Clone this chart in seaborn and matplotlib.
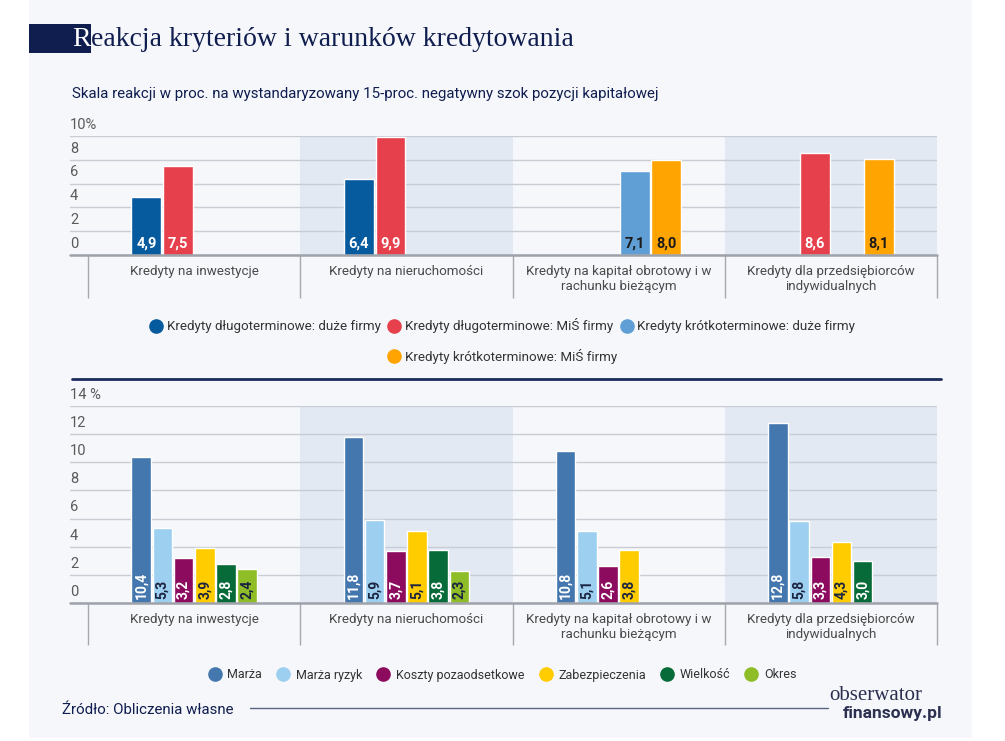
import matplotlib
matplotlib.use('Agg')
import matplotlib.pyplot as plt
import matplotlib.transforms as mtransforms
from matplotlib.colors import to_hex
from matplotlib.lines import Line2D
from matplotlib.patches import Rectangle

import pandas as pd
import seaborn as sns

# ---- data ----
groups = ["Kredyty na inwestycje", "Kredyty na nieruchomości",
          "Kredyty na kapitał obrotowy i w\nrachunku bieżącym",
          "Kredyty dla przedsiębiorców\nindywidualnych"]

top_series = ["Kredyty długoterminowe: duże firmy", "Kredyty długoterminowe: MiŚ firmy",
              "Kredyty krótkoterminowe: duże firmy", "Kredyty krótkoterminowe: MiŚ firmy"]
long_big = [4.9, 6.4, None, None]
long_sme = [7.5, 9.9, None, 8.6]
short_big = [None, None, 7.1, None]
short_sme = [None, None, 8.0, 8.1]

bottom_series = ["Marża", "Marża ryzyk", "Koszty pozaodsetkowe",
                 "Zabezpieczenia", "Wielkość", "Okres"]
marza = [10.4, 11.8, 10.8, 12.8]
marza_ryzyk = [5.3, 5.9, 5.1, 5.8]
koszty = [3.2, 3.7, 2.6, 3.3]
zabezpieczenia = [3.9, 5.1, 3.8, 4.3]
wielkosc = [2.8, 3.8, None, 3.0]
okres = [2.4, 2.3, None, None]

top_ticks = [0, 2, 4, 6, 8, 10]
top_ticklabels = ["0", "2", "4", "6", "8", "10%"]
bottom_ticks = [0, 2, 4, 6, 8, 10, 12, 14]
bottom_ticklabels = ["0", "2", "4", "6", "8", "10", "12", "14 %"]

top_colors = ["#065a9e", "#e5404b", "#5f9fd5", "#ffa400"]
top_text = ["white", "white", "#1b1b1b", "#1b1b1b"]
bottom_colors = ["#4477ad", "#9ccff0", "#8c0b5e", "#ffcc00", "#066b38", "#8fbd27"]
bottom_text = ["white", "#1c2440", "white", "#1c2440", "white", "#1c2440"]

NAVY = "#101d4f"
CARD = "#f5f7fa"
BAND = "#e3e9f2"


def to_long(series_names, columns):
    rows = []
    for name, col in zip(series_names, columns):
        for g, v in zip(groups, col):
            if v is not None:
                rows.append({"group": g, "series": name, "value": v})
    return pd.DataFrame(rows)


def draw_panel(ax, df, series_names, colors, text_colors, ticks, ticklabels,
               gap, rotate, sep_depth):
    sns.barplot(data=df, x="group", y="value", hue="series", order=groups,
                hue_order=series_names, palette=colors, saturation=1,
                width=0.6, gap=gap, legend=False, ax=ax, zorder=3)
    ax.set_facecolor("none")
    ax.set_xlim(-0.585, 3.5)
    ax.set_ylim(0, ticks[-1])

    # value labels at the foot of each bar
    cmap = {to_hex(c): tc for c, tc in zip(colors, text_colors)}
    base = mtransforms.offset_copy(ax.transData, fig=ax.figure, x=0,
                                   y=3.2 if rotate else 3.0, units="points")
    for cont in ax.containers:
        for p in cont.patches:
            h = p.get_height()
            if not h or h != h:
                continue
            col = cmap.get(to_hex(p.get_facecolor()), "white")
            ax.text(p.get_x() + p.get_width() / 2, 0,
                    "{:.1f}".format(h).replace(".", ","),
                    transform=base, ha="center", va="bottom",
                    rotation=90 if rotate else 0,
                    fontsize=10 if rotate else 10.5,
                    fontweight="bold", color=col, zorder=5)

    # shaded bands behind every second group
    for k in (1, 3):
        ax.axvspan(k - 0.5, k + 0.5, color=BAND, zorder=0, lw=0)
    ax.set_yticks(ticks)
    ax.grid(axis="y", color="#c8ccd4", lw=1, zorder=1)
    ax.grid(axis="x", visible=False)
    ax.tick_params(axis="y", left=False, labelleft=False)
    for s in ax.spines.values():
        s.set_visible(False)
    ax.axhline(0, color="#9ea2aa", lw=1.8, zorder=4, clip_on=False)
    ax.set_xlabel("")
    ax.set_ylabel("")
    ax.set_xticks(range(len(groups)))
    ax.set_xticklabels(groups, fontsize=9.6, color="#4a4a4a", linespacing=1.25)
    ax.tick_params(axis="x", length=0, pad=7)
    ax.vlines([-0.5, 0.5, 1.5, 2.5, 3.5], -sep_depth, 0,
              transform=ax.get_xaxis_transform(), colors="#a4a8af", lw=1,
              clip_on=False)

    # y tick labels sit above their gridlines, left aligned
    lift = mtransforms.offset_copy(ax.get_yaxis_transform(), fig=ax.figure,
                                   x=0, y=3, units="points")
    for t, lab in zip(ticks, ticklabels):
        ax.text(0, t, lab, transform=lift, ha="left", va="bottom",
                fontsize=10.5, color="#5a5a5a")


def dots(names, colors, ms):
    return [Line2D([], [], marker="o", ls="", markersize=ms, markerfacecolor=c,
                   markeredgecolor=c, label=n) for n, c in zip(names, colors)]


def main():
    sns.set_theme(style="white")
    plt.rcParams["font.family"] = ["Roboto", "DejaVu Sans"]

    W, H = 1005, 741
    fig = plt.figure(figsize=(W / 100, H / 100), dpi=100)
    fig.patch.set_facecolor("white")
    fig.add_artist(Rectangle((29 / W, 3 / H), 943 / W, 1, transform=fig.transFigure,
                             color=CARD, zorder=-10, lw=0))

    # title block: white initial on a navy box, rest in navy
    ty = 1 - 39 / H
    r_txt = fig.text(72 / W, ty, "R", family="Liberation Serif", fontsize=20,
                     color="white", va="center", ha="left", zorder=3)
    fig.canvas.draw()
    r_right = r_txt.get_window_extent().x1
    fig.add_artist(Rectangle((29 / W, 1 - 53 / H), (r_right - 29) / W, 29 / H,
                             transform=fig.transFigure, color=NAVY, lw=0, zorder=1))
    fig.text(r_right / W, ty, "eakcja kryteriów i warunków kredytowania",
             family="Liberation Serif", fontsize=20, color=NAVY, va="center",
             ha="left", zorder=2)
    fig.text(72 / W, 1 - 94 / H,
             "Skala reakcji w proc. na wystandaryzowany 15-proc. negatywny szok pozycji kapitałowej",
             fontsize=10.8, color=NAVY, va="center", ha="left")

    left, width = 70 / W, 867 / W
    ax1 = fig.add_axes([left, 1 - 255 / H, width, 119 / H])
    ax2 = fig.add_axes([left, 1 - 603 / H, width, 197 / H])

    df_top = to_long(top_series, [long_big, long_sme, short_big, short_sme])
    df_bot = to_long(bottom_series, [marza, marza_ryzyk, koszty, zabezpieczenia,
                                     wielkosc, okres])
    draw_panel(ax1, df_top, top_series, top_colors, top_text, top_ticks,
               top_ticklabels, gap=0.06, rotate=False, sep_depth=0.36)
    draw_panel(ax2, df_bot, bottom_series, bottom_colors, bottom_text, bottom_ticks,
               bottom_ticklabels, gap=0.08, rotate=True, sep_depth=0.215)

    # legends
    h_top = dots(top_series, top_colors, 9.5)
    kw = dict(frameon=False, loc="center", handletextpad=0.3, columnspacing=0.5,
              handlelength=1.0, fontsize=9.6, labelcolor="#333333")
    fig.legend(handles=h_top[:3], ncol=3, bbox_to_anchor=(0.5, 1 - 326 / H), **kw)
    fig.legend(handles=h_top[3:], ncol=1, bbox_to_anchor=(0.5, 1 - 356 / H), **kw)
    kw_b = dict(kw, fontsize=9.0, columnspacing=1.2, handletextpad=0.5)
    fig.legend(handles=dots(bottom_series, bottom_colors, 9.5), ncol=6,
               bbox_to_anchor=(0.5, 1 - 675 / H), **kw_b)

    # separator between panels
    fig.add_artist(Line2D([72 / W, 941 / W], [1 - 379 / H] * 2,
                          transform=fig.transFigure, color="#1d2b5c", lw=2))

    # footer
    fig.text(62 / W, 1 - 710 / H, "Źródło: Obliczenia własne", fontsize=10.8,
             color=NAVY, va="center", ha="left")
    fig.add_artist(Line2D([250 / W, 828 / W], [1 - 708 / H] * 2,
                          transform=fig.transFigure, color="#5b6480", lw=1))
    fig.text(829 / W, 1 - 700 / H, "obserwator", family="Liberation Serif",
             fontsize=15, color="#2b3050", va="baseline", ha="left")
    fig.text(942 / W, 1 - 706 / H, "finansowy.pl", fontsize=12.5, fontweight="bold",
             color="#2b3050", va="top", ha="right")

    fig.savefig("out.png", dpi=100, facecolor=fig.get_facecolor())


if __name__ == "__main__":
    main()
